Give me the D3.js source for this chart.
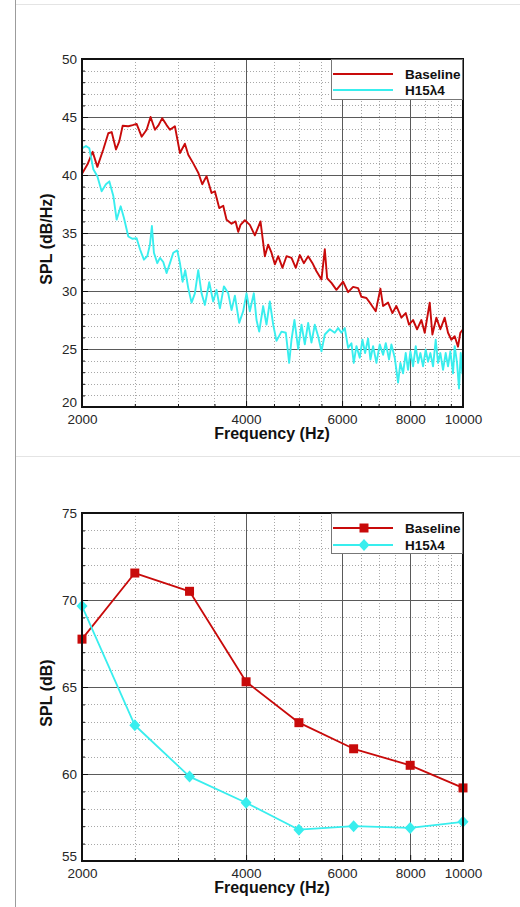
<!DOCTYPE html>
<html>
<head>
<meta charset="utf-8">
<script src="https://cdn.jsdelivr.net/npm/d3@7"></script>
<style>
  body { margin: 0; background: #fff; }
  svg { display: block; font-family: "Liberation Sans", Arial, sans-serif; }
  .axis text { fill: #262626; font-size: 13.5px; }
  .axis path.domain { display: none; }
  .axis line { stroke: #111; }
  .title { fill: #111; font-size: 16px; font-weight: bold; }
  .legend-text { fill: #111; font-size: 13.5px; font-weight: bold; }
</style>
</head>
<body>
<div id="chart"></div>
<script>

/* -----------------------
    DATA
 -------------------------- */

//-- SERIES NAMES
var seriesNames = ['Baseline', 'H15\u03BB4'];

//-- NARROWBAND SPECTRUM, BASELINE
var specFreqBaseline = [2000, 2046, 2092, 2134, 2188, 2235, 2267, 2309, 2341, 2375, 2432, 2477, 2519, 2573, 2628, 2672, 2722, 2760, 2807, 2859,
  2900, 2961, 3025, 3089, 3133, 3200, 3268, 3324, 3385, 3457, 3506, 3571, 3632, 3683, 3762, 3826, 3869, 3907, 3979, 4064,
  4151, 4251, 4330, 4391, 4453, 4517, 4581, 4665, 4745, 4846, 4935, 5019, 5105, 5199, 5295, 5385, 5500, 5578, 5633, 5737,
  5859, 6026, 6155, 6286, 6420, 6511, 6650, 6792, 6917, 7055, 7135, 7287, 7422, 7548, 7709, 7851, 7962, 8098, 8236, 8388,
  8507, 8688, 8787, 8936, 9088, 9256, 9387, 9520, 9655, 9792, 9889, 10000];
var specBaseline = [40.1, 40.9, 42.0, 40.7, 42.2, 43.6, 43.7, 42.2, 42.9, 44.25, 44.2, 44.3, 44.4, 43.3, 43.9, 45.0, 43.9, 44.25, 44.9, 44.3,
  43.9, 44.2, 41.9, 42.7, 41.75, 41.0, 40.2, 39.2, 39.9, 38.45, 38.6, 37.15, 37.35, 36.15, 35.8, 36.0, 35.1, 35.7, 36.1, 35.7,
  34.8, 36.0, 33.0, 34.0, 33.3, 32.3, 33.0, 32.0, 33.0, 32.85, 32.0, 33.1, 32.4, 33.0, 32.4, 31.7, 31.0, 33.6, 31.1, 30.7,
  30.1, 30.8, 29.9, 30.35, 30.25, 29.5, 29.4, 28.8, 28.25, 30.2, 28.7, 29.0, 28.1, 28.7, 27.7, 28.1, 27.1, 27.5, 26.7, 27.5,
  26.4, 29.0, 26.25, 27.7, 26.7, 27.7, 26.4, 25.8, 26.1, 25.2, 26.4, 26.7];

//-- NARROWBAND SPECTRUM, H15λ4
var specFreqH15 = [2000, 2034, 2063, 2098, 2134, 2173, 2213, 2245, 2283, 2315, 2355, 2388, 2432, 2477, 2519, 2555, 2598, 2635, 2665, 2687,
  2710, 2749, 2780, 2819, 2859, 2900, 2941, 2991, 3025, 3059, 3093, 3133, 3177, 3222, 3268, 3314, 3361, 3423, 3481, 3531,
  3581, 3642, 3709, 3762, 3815, 3885, 3951, 4007, 4064, 4133, 4180, 4228, 4299, 4360, 4422, 4485, 4548, 4645, 4731, 4798,
  4846, 4907, 4984, 5055, 5126, 5199, 5272, 5347, 5423, 5500, 5578, 5697, 5818, 5901, 5984, 6069, 6155, 6242, 6304, 6375,
  6466, 6539, 6613, 6697, 6763, 6840, 6937, 7035, 7135, 7216, 7318, 7390, 7495, 7601, 7676, 7763, 7851, 7929, 8007, 8098,
  8190, 8271, 8353, 8447, 8543, 8627, 8713, 8811, 8911, 8999, 9088, 9191, 9295, 9387, 9480, 9587, 9655, 9751, 9833, 9903,
  9973, 10000];
var specH15 = [42.3, 42.5, 42.3, 40.5, 39.9, 38.6, 39.2, 39.45, 38.2, 36.15, 37.3, 36.3, 34.7, 34.5, 34.55, 33.6, 32.7, 33.0, 34.0, 35.6,
  33.3, 32.4, 32.85, 32.5, 31.55, 32.4, 33.3, 33.5, 32.4, 30.8, 31.8, 30.25, 29.0, 29.8, 31.8, 29.8, 28.8, 30.75, 29.1, 30.1,
  28.5, 30.4, 29.8, 28.35, 29.6, 27.25, 28.25, 29.8, 28.25, 29.8, 27.5, 26.5, 28.7, 27.1, 29.1, 27.1, 25.7, 26.5, 26.4, 23.8,
  25.8, 27.5, 25.0, 27.1, 25.4, 27.25, 25.55, 27.1, 26.1, 24.8, 26.25, 26.7, 26.4, 26.8, 26.4, 26.8, 25.1, 25.5, 23.8, 25.25,
  24.25, 25.8, 24.65, 25.9, 24.1, 25.25, 23.8, 25.4, 24.5, 25.5, 24.1, 25.4, 24.25, 22.1, 23.8, 22.9, 24.65, 23.2, 24.8, 23.5,
  25.25, 23.8, 24.65, 23.5, 24.95, 23.9, 24.65, 23.5, 25.8, 23.8, 24.65, 23.2, 24.65, 23.5, 24.8, 22.9, 25.25, 23.8, 21.6, 24.65,
  22.9, 24.95];

//-- ONE-THIRD OCTAVE BANDS
var bandFreqs = [2000, 2500, 3150, 4000, 5000, 6300, 8000, 10000];
var bandBaseline = [67.75, 71.55, 70.5, 65.3, 62.95, 61.45, 60.5, 59.2];
var bandH15 = [69.65, 62.8, 59.85, 58.35, 56.8, 57.0, 56.9, 57.25];

//-- TICKS
var xTickValues = [2000, 4000, 6000, 8000, 10000];
var spectrumYTicks = [20, 25, 30, 35, 40, 45, 50];
var bandYTicks = [55, 60, 65, 70, 75];

//-- COLOURS
var colors = ['#c80a0a', '#38eeee'];

/* -----------------------
    SVG
 -------------------------- */
var W = 520, H = 907;

var svg = d3.select('#chart').append('svg')
  .attr('width', W)
  .attr('height', H);

//-- PAGE EDGES (screenshot borders)
svg.append('line')
  .attr('x1', 15.5).attr('x2', 15.5)
  .attr('y1', 0).attr('y2', H)
  .attr('stroke', '#9c9c9c');
[4.5, 456.5].forEach(function(yy) {
  svg.append('line')
    .attr('x1', 16).attr('x2', W)
    .attr('y1', yy).attr('y2', yy)
    .attr('stroke', '#e4e4e4');
});

/* -----------------------
    PANEL
 -------------------------- */
function drawPanel(opts) {
  var m = { left: 82, right: 463, top: opts.top, bottom: opts.bottom };
  var g = svg.append('g');

  //-- SCALES
  var x = d3.scaleLog().domain([2000, 10000]).range([m.left, m.right]);
  var y = d3.scaleLinear().domain(d3.extent(opts.yTicks)).range([m.bottom, m.top]);

  var minorX = d3.range(2500, 10000, 500).filter(function(f) { return xTickValues.indexOf(f) < 0; });
  var minorY = d3.range(opts.yTicks[0] + 1, opts.yTicks[opts.yTicks.length - 1], 1)
    .filter(function(v) { return v % 5 !== 0; });

  //-- MINOR GRID (dotted)
  g.selectAll('.gx-minor').data(minorX).enter().append('line')
    .attr('x1', function(d) { return Math.round(x(d)) + 0.5; })
    .attr('x2', function(d) { return Math.round(x(d)) + 0.5; })
    .attr('y1', m.top).attr('y2', m.bottom)
    .attr('stroke', '#a8a8a8').attr('stroke-dasharray', '1,2');
  g.selectAll('.gy-minor').data(minorY).enter().append('line')
    .attr('y1', function(d) { return Math.round(y(d)) + 0.5; })
    .attr('y2', function(d) { return Math.round(y(d)) + 0.5; })
    .attr('x1', m.left).attr('x2', m.right)
    .attr('stroke', '#a8a8a8').attr('stroke-dasharray', '1,2');

  //-- MAJOR GRID
  g.selectAll('.gx-major').data(xTickValues.slice(1, -1)).enter().append('line')
    .attr('x1', function(d) { return Math.round(x(d)) + 0.5; })
    .attr('x2', function(d) { return Math.round(x(d)) + 0.5; })
    .attr('y1', m.top).attr('y2', m.bottom)
    .attr('stroke', '#5a5a5a');
  g.selectAll('.gy-major').data(opts.yTicks.slice(1, -1)).enter().append('line')
    .attr('y1', function(d) { return Math.round(y(d)) + 0.5; })
    .attr('y2', function(d) { return Math.round(y(d)) + 0.5; })
    .attr('x1', m.left).attr('x2', m.right)
    .attr('stroke', '#5a5a5a');

  //-- AXES
  var yAxis = g.append('g')
    .attr('class', 'axis')
    .attr('transform', 'translate(' + m.left + ',0)')
    .call(d3.axisLeft(y).tickValues(opts.yTicks).tickSize(-6).tickPadding(5));
  //--- lowest y label sits just above the first x label, as in the original
  yAxis.selectAll('.tick text')
    .filter(function(d) { return d === opts.yTicks[0]; })
    .attr('dy', '-0.05em');
  g.append('g')
    .attr('class', 'axis')
    .attr('transform', 'translate(0,' + m.bottom + ')')
    .call(d3.axisBottom(x).tickValues(xTickValues).tickSize(-6).tickPadding(7)
      .tickFormat(d3.format('d')));
  g.append('g')
    .attr('class', 'axis')
    .attr('transform', 'translate(0,' + m.bottom + ')')
    .call(d3.axisBottom(x).tickValues(minorX).tickSize(-3).tickFormat(''));
  g.append('g')
    .attr('class', 'axis')
    .attr('transform', 'translate(' + m.left + ',0)')
    .call(d3.axisLeft(y).tickValues(minorY).tickSize(-3).tickFormat(''));

  //-- SERIES
  var line = d3.line()
    .x(function(d) { return x(d[0]); })
    .y(function(d) { return y(d[1]); });

  opts.series.forEach(function(s, i) {
    var pts = d3.zip(s.f, s.v);
    g.append('path')
      .datum(pts)
      .attr('d', line)
      .attr('fill', 'none')
      .attr('stroke', colors[i])
      .attr('stroke-width', opts.markers ? 1.8 : 1.9)
      .attr('stroke-linejoin', 'round');
    if (opts.markers) {
      g.selectAll('.mk' + i).data(pts).enter().append('path')
        .attr('transform', function(d) { return 'translate(' + x(d[0]) + ',' + y(d[1]) + ')'; })
        .attr('d', markerPath(i))
        .attr('fill', colors[i]);
    }
  });

  //-- FRAME
  g.append('rect')
    .attr('x', m.left).attr('y', m.top)
    .attr('width', m.right - m.left).attr('height', m.bottom - m.top)
    .attr('fill', 'none').attr('stroke', '#111').attr('stroke-width', 2);

  //-- LEGEND
  var lg = g.append('g').attr('transform', 'translate(331,' + m.top + ')');
  lg.append('rect')
    .attr('x', 0.5).attr('y', 0.5).attr('width', 131).attr('height', 40)
    .attr('fill', '#fff').attr('stroke', '#777');
  seriesNames.forEach(function(name, i) {
    var ly = opts.markers ? 15 + i * 17 : 15 + i * 16;
    lg.append('line')
      .attr('x1', 2).attr('x2', 62)
      .attr('y1', ly).attr('y2', ly)
      .attr('stroke', colors[i]).attr('stroke-width', 2);
    if (opts.markers) {
      lg.append('path')
        .attr('transform', 'translate(33,' + ly + ')')
        .attr('d', markerPath(i))
        .attr('fill', colors[i]);
    }
    lg.append('text')
      .attr('class', 'legend-text')
      .attr('x', 74).attr('y', ly + 5)
      .text(name);
  });

  //-- AXIS TITLES
  g.append('text')
    .attr('class', 'title')
    .attr('x', 272).attr('y', m.bottom + 32)
    .attr('text-anchor', 'middle')
    .text('Frequency (Hz)');
  g.append('text')
    .attr('class', 'title')
    .attr('transform', 'translate(52,' + ((m.top + m.bottom) / 2 + 6) + ') rotate(-90)')
    .attr('text-anchor', 'middle')
    .text(opts.yTitle);
}

function markerPath(i) {
  return i === 0 ? 'M-4.5,-4.5H4.5V4.5H-4.5Z' : 'M0,-6L5.5,0L0,6L-5.5,0Z';
}

/* -----------------------
    DRAW BOTH PANELS
 -------------------------- */
drawPanel({
  top: 59,
  bottom: 407,
  yTicks: spectrumYTicks,
  yTitle: 'SPL (dB/Hz)',
  markers: false,
  series: [
    { f: specFreqBaseline, v: specBaseline },
    { f: specFreqH15, v: specH15 }
  ]
});

drawPanel({
  top: 513,
  bottom: 861,
  yTicks: bandYTicks,
  yTitle: 'SPL (dB)',
  markers: true,
  series: [
    { f: bandFreqs, v: bandBaseline },
    { f: bandFreqs, v: bandH15 }
  ]
});

</script>
</body>
</html>
